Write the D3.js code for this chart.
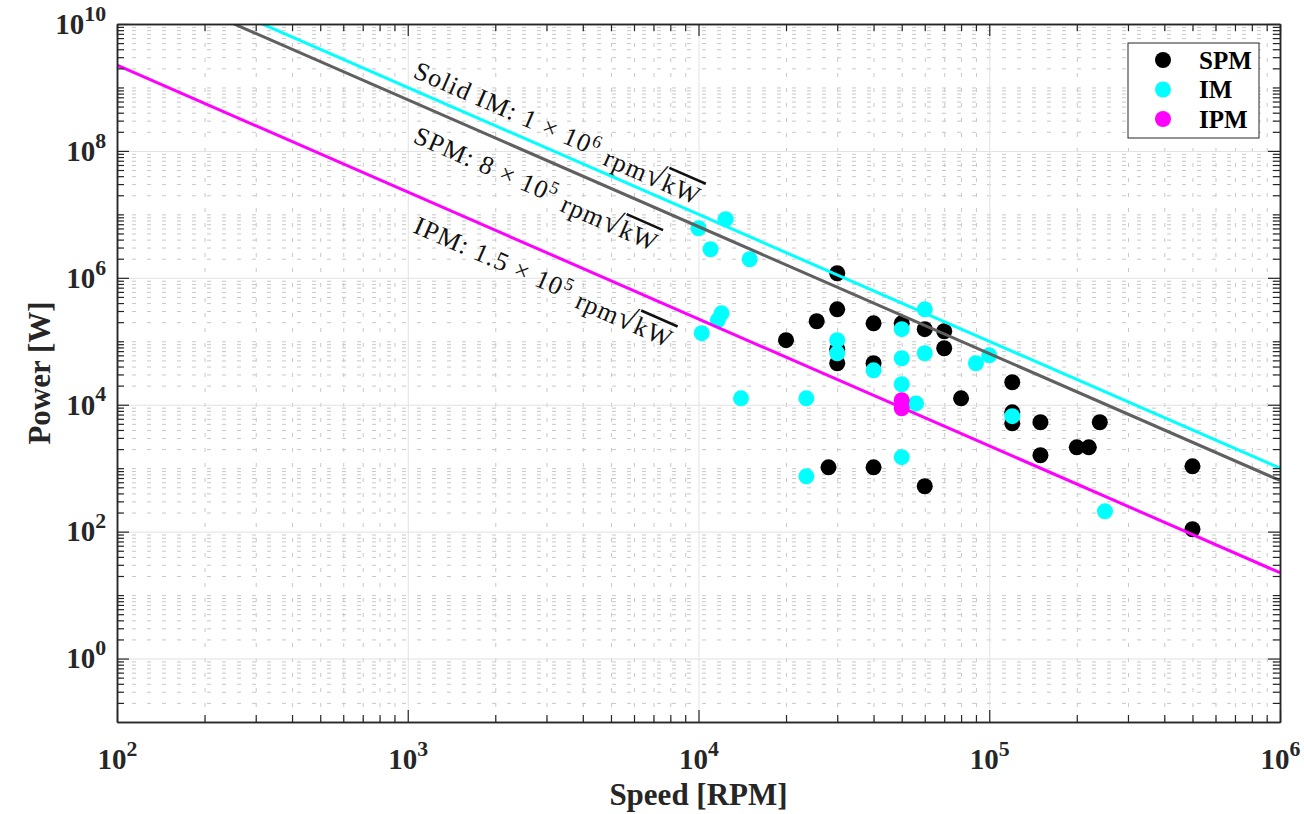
<!DOCTYPE html>
<html>
<head>
<meta charset="utf-8">
<script src="https://cdn.jsdelivr.net/npm/d3@7"></script>
<style>
  body { margin: 0; background: #fff; }
  text { font-family: "Liberation Serif", "Times New Roman", serif; }
</style>
</head>
<body>
<div id="chart"></div>
<script>
// Data (speed in rpm, power in W)
var spmSpeed = [30000, 30000, 25500, 20000, 30000, 30000, 40000, 40000, 50000, 60000, 70000, 70000,
  80000, 120000, 120000, 120000, 150000, 150000, 200000, 220000, 240000, 500000, 500000, 28000, 40000, 60000]
var spmPower = [1.18e6, 3.19e5, 2.07e5, 1.04e5, 7.5e4, 4.5e4, 1.92e5, 4.5e4, 1.92e5, 1.55e5, 1.44e5, 7.76e4,
  1.26e4, 2.26e4, 7.6e3, 5.1e3, 5.3e3, 1.6e3, 2.13e3, 2.13e3, 5.3e3, 1.07e3, 109, 1.03e3, 1.03e3, 519]

var imSpeed = [10000, 12400, 11000, 15000, 12000, 11650, 10260, 14000, 23500, 30000, 30000, 40000,
  50000, 50000, 50000, 50000, 60000, 60000, 56000, 23500, 90000, 100000, 120000, 250000]
var imPower = [6.04e6, 8.4e6, 2.82e6, 1.96e6, 2.76e5, 2.14e5, 1.34e5, 1.26e4, 1.26e4, 1.04e5, 6.47e4, 3.49e4,
  1.55e5, 5.4e4, 2.1e4, 1.49e3, 3.19e5, 6.47e4, 1.05e4, 745, 4.5e4, 6.0e4, 6.6e3, 209]

var ipmSpeed = [50000, 50000]
var ipmPower = [1.18e4, 8.8e3]

// rpm*sqrt(kW) limits
var limitNames = ['IPM', 'SPM', 'Solid IM']
var limitValues = [1.5e5, 8e5, 1e6]
var limitMantissa = ['1.5', '8', '1']
var limitExponent = ['5', '5', '6']

var legendNames = ['SPM', 'IM', 'IPM']
var xMajor = [1e2, 1e3, 1e4, 1e5, 1e6]
var yMajor = [1e0, 1e2, 1e4, 1e6, 1e8, 1e10]

var colors = { SPM: '#000000', IM: '#00ffff', IPM: '#ff00ff' }
var lineColors = { IPM: '#ff00ff', SPM: '#606060', 'Solid IM': '#00ffff' }

var svgWidth = 1304
var svgHeight = 814
var margin = { top: 24, right: 24, bottom: 92, left: 117 }
var width = svgWidth - margin.left - margin.right
var height = svgHeight - margin.top - margin.bottom

var svg = d3.select('#chart').append('svg')
  .attr('width', svgWidth)
  .attr('height', svgHeight)

var g = svg.append('g')
  .attr('transform', `translate(${margin.left}, ${margin.top})`)

var x = d3.scaleLog().domain([1e2, 1e6]).range([0, width])
var y = d3.scaleLog().domain([1e-1, 1e10]).range([height, 0])

// minor tick values: 2..9 in every decade, plus odd decades on y
var xMinor = []
for (var e = 2; e < 6; e++) {
  for (var m = 2; m <= 9; m++) xMinor.push(m * Math.pow(10, e))
}
var yMinor = []
for (var k = -1; k < 10; k++) {
  for (var m2 = 2; m2 <= 9; m2++) yMinor.push(m2 * Math.pow(10, k))
  if (k % 2 !== 0 && k > -1) yMinor.push(Math.pow(10, k))
}

// grid
function grid (axis, cls) {
  var gg = g.append('g').attr('class', cls).call(axis)
  gg.select('.domain').remove()
  gg.selectAll('text').remove()
  return gg
}
grid(d3.axisBottom(x).tickValues(xMinor).tickSize(-height).tickFormat(''), 'gx-minor')
  .attr('transform', `translate(0, ${height})`)
  .selectAll('line').attr('stroke', '#c8c8c8').attr('stroke-dasharray', '4,11').attr('stroke-width', 1)
grid(d3.axisLeft(y).tickValues(yMinor).tickSize(-width).tickFormat(''), 'gy-minor')
  .selectAll('line').attr('stroke', '#c8c8c8').attr('stroke-dasharray', '4,11').attr('stroke-width', 1)
grid(d3.axisBottom(x).tickValues(xMajor).tickSize(-height).tickFormat(''), 'gx-major')
  .attr('transform', `translate(0, ${height})`)
  .selectAll('line').attr('stroke', '#e1e1e1').attr('stroke-width', 1)
grid(d3.axisLeft(y).tickValues(yMajor).tickSize(-width).tickFormat(''), 'gy-major')
  .selectAll('line').attr('stroke', '#e1e1e1').attr('stroke-width', 1)

// scatter
var clip = svg.append('clipPath').attr('id', 'plotclip')
clip.append('rect').attr('width', width).attr('height', height)

function dots (speeds, powers, color) {
  g.append('g').selectAll('circle')
    .data(speeds.map(function (s, i) { return [s, powers[i]] }))
    .enter()
    .append('circle')
    .attr('cx', d => x(d[0]))
    .attr('cy', d => y(d[1]))
    .attr('r', 8)
    .attr('fill', color)
}
dots(spmSpeed, spmPower, colors.SPM)
dots(imSpeed, imPower, colors.IM)
dots(ipmSpeed, ipmPower, colors.IPM)

// limit lines P[W] = 1000 * (C / n)^2
var lineGroup = g.append('g').attr('clip-path', 'url(#plotclip)')
limitNames.forEach(function (name, i) {
  var c = limitValues[i]
  var ends = x.domain().map(function (n) { return [n, 1000 * Math.pow(c / n, 2)] })
  lineGroup.append('path')
    .attr('d', d3.line().x(d => x(d[0])).y(d => y(d[1]))(ends))
    .attr('stroke', lineColors[name])
    .attr('stroke-width', 3)
    .attr('fill', 'none')
})

// line labels
var angle = Math.atan2(y(1e4) - y(1e6), x(1e5) - x(1e4)) * 180 / Math.PI
var labelPos = { 'Solid IM': [412, 77], SPM: [412, 142], IPM: [412, 232] }
limitNames.forEach(function (name, i) {
  var p = labelPos[name]
  var t = svg.append('text')
    .attr('transform', `translate(${p[0]}, ${p[1]}) rotate(${angle})`)
    .style('font-size', '26px')
    .style('letter-spacing', '1.1px')
    .attr('fill', '#111')
  t.append('tspan').text(name + ': ' + limitMantissa[i] + ' \u00d7 10')
  t.append('tspan').attr('dy', '-0.5em').style('font-size', '18px').text(limitExponent[i])
  t.append('tspan').attr('dy', '0.5em').text(' rpm')
  t.append('tspan').style('font-size', '31px').text('\u221a')
  t.append('tspan').style('text-decoration', 'overline').text('kW')
})

// axes with inward ticks on all sides
function styleAxis (sel) {
  sel.select('.domain').attr('stroke', '#262626').attr('stroke-width', 1.5)
  sel.selectAll('line').attr('stroke', '#262626').attr('stroke-width', 1.2)
}
function powerLabel (sel) {
  sel.each(function (d) {
    var t = d3.select(this).text('')
    t.append('tspan').text('10')
    t.append('tspan').attr('dy', '-0.6em').style('font-size', '0.75em').text(Math.round(Math.log10(d)))
  })
}

var bottomMinor = g.append('g').attr('transform', `translate(0, ${height})`)
  .call(d3.axisBottom(x).tickValues(xMinor).tickSize(-7).tickSizeOuter(0).tickFormat(''))
var topMinor = g.append('g')
  .call(d3.axisTop(x).tickValues(xMinor).tickSize(-7).tickSizeOuter(0).tickFormat(''))
var leftMinor = g.append('g')
  .call(d3.axisLeft(y).tickValues(yMinor).tickSize(-7).tickSizeOuter(0).tickFormat(''))
var rightMinor = g.append('g').attr('transform', `translate(${width}, 0)`)
  .call(d3.axisRight(y).tickValues(yMinor).tickSize(-7).tickSizeOuter(0).tickFormat(''))
;[bottomMinor, topMinor, leftMinor, rightMinor].forEach(styleAxis)

var bottomAxis = g.append('g').attr('transform', `translate(0, ${height})`)
  .call(d3.axisBottom(x).tickValues(xMajor).tickSize(-12).tickSizeOuter(0).tickPadding(26))
var topAxis = g.append('g')
  .call(d3.axisTop(x).tickValues(xMajor).tickSize(-12).tickSizeOuter(0).tickFormat(''))
var leftAxis = g.append('g')
  .call(d3.axisLeft(y).tickValues(yMajor).tickSize(-12).tickSizeOuter(0).tickPadding(11))
var rightAxis = g.append('g').attr('transform', `translate(${width}, 0)`)
  .call(d3.axisRight(y).tickValues(yMajor).tickSize(-12).tickSizeOuter(0).tickFormat(''))
;[bottomAxis, topAxis, leftAxis, rightAxis].forEach(styleAxis)

;[bottomAxis, leftAxis].forEach(function (a) {
  a.selectAll('text')
    .style('font-family', '"Liberation Serif", serif')
    .style('font-size', '29px')
    .style('font-weight', 'bold')
    .attr('fill', '#262626')
    .call(powerLabel)
})

// axis titles
svg.append('text')
  .attr('x', margin.left + width / 2)
  .attr('y', 805)
  .attr('text-anchor', 'middle')
  .style('font-size', '31px')
  .style('font-weight', 'bold')
  .attr('fill', '#262626')
  .text('Speed [RPM]')

svg.append('text')
  .attr('transform', `translate(50, ${margin.top + height / 2}) rotate(-90)`)
  .attr('text-anchor', 'middle')
  .style('font-size', '31px')
  .style('font-weight', 'bold')
  .attr('fill', '#262626')
  .text('Power [W]')

// legend
var legend = svg.append('g').attr('transform', 'translate(1128, 43)')
legend.append('rect')
  .attr('width', 131)
  .attr('height', 95)
  .attr('fill', '#fff')
  .attr('stroke', '#262626')
  .attr('stroke-width', 1)
legendNames.forEach(function (name, i) {
  legend.append('circle')
    .attr('cx', 35)
    .attr('cy', 17 + i * 29.5)
    .attr('r', 8)
    .attr('fill', colors[name])
  legend.append('text')
    .attr('x', 71)
    .attr('y', 17 + i * 29.5)
    .attr('dy', '0.35em')
    .style('font-size', '25px')
    .style('font-weight', 'bold')
    .text(name)
})
</script>
</body>
</html>
